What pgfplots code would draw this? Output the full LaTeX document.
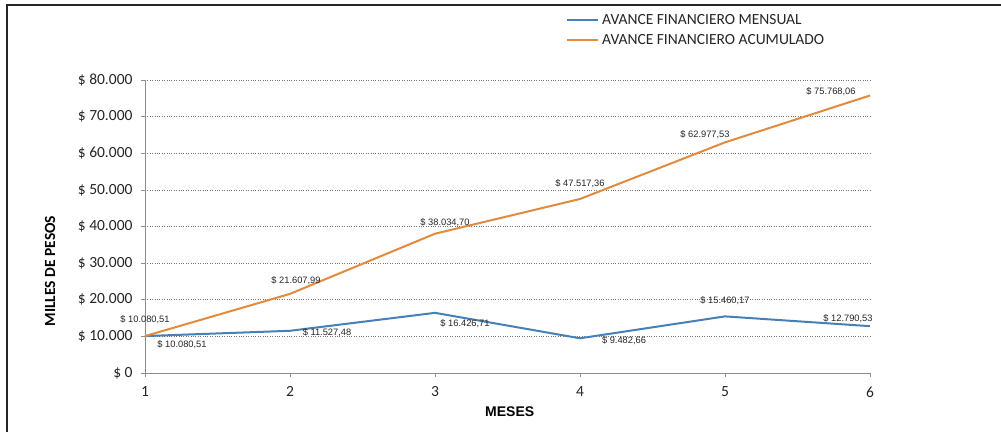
\documentclass[border=0pt]{standalone}
\usepackage{pgfplots}
\pgfplotsset{compat=1.18}
\usepackage{fontspec}
\setmainfont{Carlito}
\newfontfamily\arial{Liberation Sans}
\definecolor{cblue}{RGB}{70,128,182}
\definecolor{corange}{RGB}{226,138,62}
\begin{document}
\begin{tikzpicture}
\useasboundingbox (0pt,0pt) rectangle (1001pt,-432pt);
\fill[white] (0pt,0pt) rectangle (1001pt,-432pt);
\draw[line width=2.2pt, black!85] (7pt,-432pt) -- (7pt,-5pt) -- (1001pt,-5pt);
% legend
\draw[cblue, line width=1.8pt] (567pt,-20pt) -- (598pt,-20pt);
\node[anchor=west, inner sep=0pt, text=black!85, font=\fontsize{15.5}{17}\selectfont] at (602pt,-20pt) {AVANCE FINANCIERO MENSUAL};
\draw[corange, line width=1.8pt] (567pt,-40pt) -- (598pt,-40pt);
\node[anchor=west, inner sep=0pt, text=black!85, font=\fontsize{15.5}{17}\selectfont] at (602pt,-40pt) {AVANCE FINANCIERO ACUMULADO};
\begin{axis}[
  at={(145pt,-373pt)}, anchor=south west,
  scale only axis, width=725pt, height=293pt,
  xmin=1, xmax=6, ymin=0, ymax=80000,
  scaled y ticks=false,
  axis x line*=bottom, axis y line*=left,
  axis line style={black!45, line width=0.6pt},
  xtick={1,2,3,4,5,6},
  ytick={0,10000,20000,30000,40000,50000,60000,70000,80000},
  yticklabels={\$~0,\$~10.000,\$~20.000,\$~30.000,\$~40.000,\$~50.000,\$~60.000,\$~70.000,\$~80.000},
  xticklabels={1,2,3,4,5,6},
  tick align=outside, major tick length=4pt,
  tick style={black!45, line width=0.6pt},
  ymajorgrids, major grid style={black!55, dotted, line width=0.6pt},
  ticklabel style={font=\fontsize{15.5}{17}\selectfont, text=black!85},
  yticklabel style={xshift=-5pt},
  xticklabel style={yshift=-6pt},
  ylabel={\bfseries MILLES DE PESOS},
  ylabel style={at={(axis description cs:-0.131,0.348)}, anchor=center, rotate=0, font=\fontsize{15.5}{17}\selectfont},
  xlabel={\arial\bfseries MESES},
  xlabel style={at={(axis description cs:0.503,-0.133)}, anchor=center, font=\fontsize{14}{16}\selectfont},
  clip=false,
]
\addplot[color=cblue, line width=2pt] coordinates {(1,10080.51) (2,11527.48) (3,16426.71) (4,9482.66) (5,15460.17) (6,12790.53)};
\addplot[color=corange, line width=2pt] coordinates {(1,10080.51) (2,21607.99) (3,38034.70) (4,47517.36) (5,62977.53) (6,75768.06)};
\begin{scope}[every node/.style={font=\arial\fontsize{9.3}{10}\selectfont, text=black!85, inner sep=0pt}]
% acumulado
\node[xshift=0pt, yshift=16pt] at (axis cs:1,10080.51) {\$ 10.080,51};
\node[xshift=6pt, yshift=13pt] at (axis cs:2,21607.99) {\$ 21.607,99};
\node[xshift=10pt, yshift=11pt] at (axis cs:3,38034.70) {\$ 38.034,70};
\node[xshift=0pt, yshift=15pt] at (axis cs:4,47517.36) {\$ 47.517,36};
\node[xshift=-20pt, yshift=8pt] at (axis cs:5,62977.53) {\$ 62.977,53};
\node[xshift=-39pt, yshift=4pt] at (axis cs:6,75768.06) {\$ 75.768,06};
% mensual
\node[xshift=37pt, yshift=-9pt] at (axis cs:1,10080.51) {\$ 10.080,51};
\node[xshift=37pt, yshift=-2pt] at (axis cs:2,11527.48) {\$ 11.527,48};
\node[xshift=30pt, yshift=-11pt] at (axis cs:3,16426.71) {\$ 16.426,71};
\node[xshift=44pt, yshift=-2pt] at (axis cs:4,9482.66) {\$ 9.482,66};
\node[xshift=0pt, yshift=16pt] at (axis cs:5,15460.17) {\$ 15.460,17};
\node[xshift=-22pt, yshift=8pt] at (axis cs:6,12790.53) {\$ 12.790,53};
\end{scope}
\end{axis}
\end{tikzpicture}
\end{document}
